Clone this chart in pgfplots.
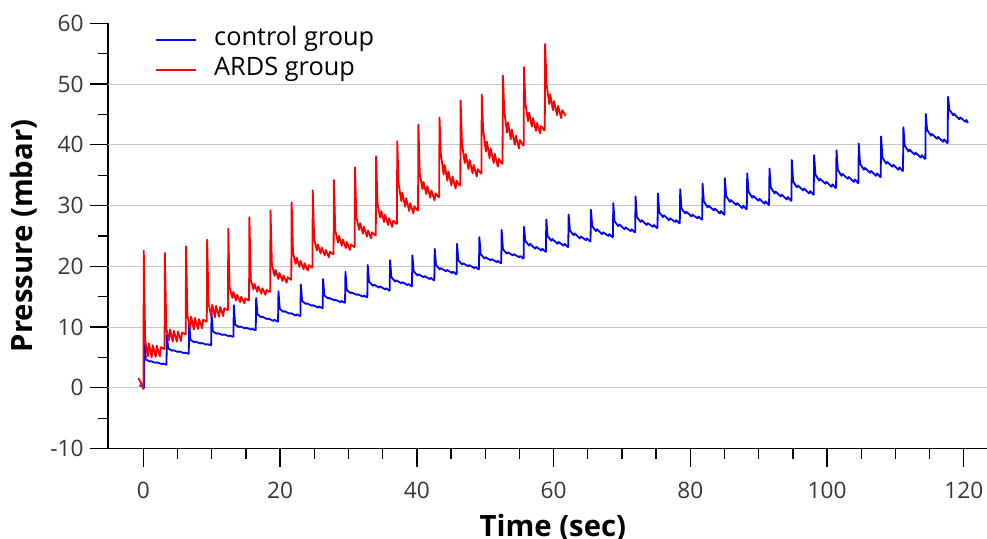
\documentclass[border=0pt]{standalone}
\usepackage{pgfplots}
\pgfplotsset{compat=1.18}
\usepackage{fontspec}
\setmainfont{Open Sans}
\definecolor{gridgray}{RGB}{200,200,200}
\definecolor{ticktext}{RGB}{55,55,55}
\begin{document}
\begin{tikzpicture}
\useasboundingbox (-81.2pt,-67.7pt) rectangle (659.25pt,336.5pt);
\begin{axis}[
  at={(0,0)}, anchor=south west,
  scale only axis, width=659.25pt, height=319pt,
  xmin=-5.15, xmax=123.4, ymin=-10, ymax=60,
  axis lines=left,
  axis line style={-, line width=1.2pt, black},
  xtick={0,20,...,120}, ytick={-10,0,...,60},
  minor x tick num=3, minor y tick num=1,
  tick align=outside,
  major tick length=13.5pt, minor tick length=7.5pt,
  tick style={line width=1pt, black},
  extra y ticks={0,10,20,30,40,50},
  extra y tick labels={},
  extra y tick style={grid=major, major tick length=0pt},
  grid style={line width=0.8pt, gridgray},
  /pgf/number format/assume math mode=true,
  ticklabel style={font=\fontsize{17}{20}\selectfont, text=ticktext},
  xticklabel style={yshift=-8pt},
  yticklabel style={xshift=-1.5pt},
  xlabel={\textbf{Time (sec)}},
  ylabel={\textbf{Pressure (mbar)}},
  label style={font=\fontsize{22}{26}\selectfont},
  xlabel style={at={(axis description cs:0.506,-0.207)}, anchor=base},
  ylabel style={at={(axis description cs:-0.0857,0.5)}, anchor=base, rotate=0},
  legend style={at={(axis description cs:0.048,1.0026)}, anchor=north west, draw=none, fill=none,
    font=\fontsize{19}{22}\selectfont, legend cell align=left,
    nodes={text height=13.5pt, text depth=5pt}},
  legend image code/.code={\draw[#1, line width=1.3pt] (0pt,0pt) -- (30pt,0pt); \path[draw=none] (42pt,0pt) circle (0pt);},
  every axis plot/.append style={line width=1.35pt, line join=round},
]
\addplot[blue, mark=none] coordinates {
(-0.6,0.4)(-0.2,0.3)(0.0,0.1)
(0.10,0.0)(0.16,8.0)(0.35,4.7)(0.90,4.3)(1.05,4.4)(1.80,4.1)(1.95,4.2)(2.70,3.9)(2.85,4.0)(3.30,3.8)
(3.37,3.8)(3.43,8.7)(3.62,6.5)(4.17,6.1)(4.32,6.2)(5.07,5.9)(5.22,6.0)(5.97,5.7)(6.12,5.8)(6.57,5.6)
(6.63,5.6)(6.69,10.6)(6.88,7.9)(7.43,7.5)(7.58,7.6)(8.33,7.3)(8.48,7.4)(9.23,7.1)(9.38,7.2)(9.83,7.0)
(9.90,7.0)(9.96,12.3)(10.15,9.3)(10.70,8.9)(10.85,9.0)(11.60,8.7)(11.75,8.8)(12.50,8.5)(12.65,8.6)(13.10,8.4)
(13.16,8.4)(13.22,13.6)(13.41,10.4)(13.96,10.0)(14.11,10.1)(14.86,9.8)(15.01,9.9)(15.76,9.6)(15.91,9.7)(16.36,9.5)
(16.43,9.5)(16.49,14.8)(16.68,12.1)(17.23,11.6)(17.38,11.7)(18.13,11.3)(18.28,11.4)(19.03,11.0)(19.18,11.2)(19.63,10.9)
(19.69,10.9)(19.75,15.9)(19.94,13.0)(20.49,12.5)(20.64,12.6)(21.39,12.2)(21.54,12.3)(22.29,11.9)(22.44,12.1)(22.89,11.8)
(22.96,11.8)(23.02,17.0)(23.21,14.3)(23.76,13.8)(23.91,13.9)(24.66,13.5)(24.81,13.6)(25.56,13.2)(25.71,13.4)(26.16,13.1)
(26.22,13.1)(26.28,17.9)(26.47,15.2)(27.02,14.7)(27.17,14.8)(27.92,14.4)(28.07,14.5)(28.82,14.1)(28.97,14.3)(29.42,14.0)
(29.49,14.0)(29.55,19.1)(29.74,16.1)(30.29,15.6)(30.44,15.7)(31.19,15.3)(31.34,15.4)(32.09,15.0)(32.24,15.2)(32.69,14.9)
(32.75,14.9)(32.81,20.2)(33.00,17.5)(33.55,16.8)(33.70,17.0)(34.45,16.5)(34.60,16.7)(35.35,16.2)(35.50,16.4)(35.95,16.0)
(36.02,16.0)(36.08,21.0)(36.27,18.2)(36.82,17.5)(36.97,17.7)(37.72,17.2)(37.87,17.4)(38.62,16.9)(38.77,17.1)(39.22,16.7)
(39.28,16.7)(39.34,21.8)(39.53,19.2)(40.08,18.5)(40.23,18.7)(40.98,18.2)(41.13,18.4)(41.88,17.9)(42.03,18.1)(42.48,17.7)
(42.55,17.7)(42.61,22.9)(42.80,20.2)(43.35,19.5)(43.50,19.7)(44.25,19.2)(44.40,19.4)(45.15,18.9)(45.30,19.1)(45.75,18.7)
(45.81,18.7)(45.87,23.7)(46.06,21.0)(46.61,20.3)(46.76,20.5)(47.51,20.0)(47.66,20.2)(48.41,19.7)(48.56,19.9)(49.01,19.5)
(49.08,19.5)(49.14,24.8)(49.33,22.0)(49.88,21.3)(50.03,21.5)(50.78,21.0)(50.93,21.2)(51.68,20.7)(51.83,20.9)(52.28,20.5)
(52.34,20.5)(52.40,26.0)(52.59,22.8)(53.14,22.1)(53.29,22.3)(54.04,21.8)(54.19,22.0)(54.94,21.5)(55.09,21.7)(55.54,21.3)
(55.61,21.3)(55.67,26.5)(55.86,24.2)(56.41,23.4)(56.56,23.7)(57.31,22.9)(57.46,23.2)(58.21,22.6)(58.36,22.9)(58.81,22.4)
(58.87,22.4)(58.93,27.7)(59.12,25.0)(59.67,24.2)(59.82,24.5)(60.57,23.7)(60.72,24.0)(61.47,23.4)(61.62,23.7)(62.07,23.2)
(62.14,23.2)(62.20,28.5)(62.39,25.9)(62.94,25.1)(63.09,25.4)(63.84,24.6)(63.99,24.9)(64.74,24.3)(64.89,24.6)(65.34,24.1)
(65.40,24.1)(65.46,29.3)(65.65,26.6)(66.20,25.8)(66.35,26.1)(67.10,25.3)(67.25,25.6)(68.00,25.0)(68.15,25.3)(68.60,24.8)
(68.67,24.8)(68.73,30.4)(68.92,27.4)(69.47,26.6)(69.62,26.9)(70.37,26.1)(70.52,26.4)(71.27,25.8)(71.42,26.1)(71.87,25.6)
(71.93,25.6)(71.99,31.5)(72.18,28.1)(72.73,27.3)(72.88,27.6)(73.63,26.8)(73.78,27.1)(74.53,26.5)(74.68,26.8)(75.13,26.3)
(75.20,26.3)(75.26,32.0)(75.45,28.9)(76.00,28.1)(76.15,28.4)(76.90,27.6)(77.05,27.9)(77.80,27.3)(77.95,27.6)(78.40,27.1)
(78.46,27.1)(78.52,32.7)(78.71,29.5)(79.26,28.7)(79.41,29.0)(80.16,28.2)(80.31,28.5)(81.06,27.9)(81.21,28.2)(81.66,27.7)
(81.73,27.7)(81.79,33.6)(81.98,30.7)(82.53,29.7)(82.68,30.0)(83.43,29.2)(83.58,29.5)(84.33,28.7)(84.48,29.1)(84.93,28.5)
(84.99,28.5)(85.05,34.5)(85.24,31.6)(85.79,30.6)(85.94,30.9)(86.69,30.1)(86.84,30.4)(87.59,29.6)(87.74,30.0)(88.19,29.4)
(88.26,29.4)(88.32,35.3)(88.51,32.3)(89.06,31.3)(89.21,31.6)(89.96,30.8)(90.11,31.1)(90.86,30.3)(91.01,30.7)(91.46,30.1)
(91.52,30.1)(91.58,36.1)(91.77,33.0)(92.32,32.0)(92.47,32.3)(93.22,31.5)(93.37,31.8)(94.12,31.0)(94.27,31.4)(94.72,30.8)
(94.79,30.8)(94.85,37.5)(95.04,34.0)(95.59,33.0)(95.74,33.3)(96.49,32.5)(96.64,32.8)(97.39,32.0)(97.54,32.4)(97.99,31.8)
(98.05,31.8)(98.11,38.3)(98.30,35.1)(98.85,34.1)(99.00,34.4)(99.75,33.6)(99.90,33.9)(100.65,33.1)(100.80,33.5)(101.25,32.9)
(101.32,32.9)(101.38,39.1)(101.57,35.9)(102.12,34.9)(102.27,35.2)(103.02,34.4)(103.17,34.7)(103.92,33.9)(104.07,34.3)(104.52,33.7)
(104.58,33.7)(104.64,40.2)(104.83,36.9)(105.38,35.9)(105.53,36.2)(106.28,35.4)(106.43,35.7)(107.18,34.9)(107.33,35.3)(107.78,34.7)
(107.85,34.7)(107.91,41.4)(108.10,37.9)(108.65,36.9)(108.80,37.2)(109.55,36.4)(109.70,36.7)(110.45,35.9)(110.60,36.3)(111.05,35.7)
(111.11,35.7)(111.17,42.9)(111.36,39.9)(111.91,38.9)(112.06,39.2)(112.81,38.4)(112.96,38.7)(113.71,37.9)(113.86,38.3)(114.31,37.7)
(114.38,37.7)(114.44,45.1)(114.63,42.5)(115.18,41.5)(115.33,41.8)(116.08,41.0)(116.23,41.3)(116.98,40.5)(117.13,40.9)(117.58,40.3)
(117.64,40.3)(117.70,47.9)(117.89,45.8)(118.44,44.9)(118.59,45.1)(119.34,44.2)(119.49,44.5)(120.24,43.8)(120.39,44.1)(120.60,43.6)
};
\addlegendentry{control group}
\addplot[red, mark=none] coordinates {
(-0.75,1.6)(-0.4,0.9)(-0.1,0.1)(0.0,-0.2)
(0.05,22.6)(0.25,7.8)(0.65,5.2)(0.8,7.3)(1.2,5.0)(1.35,7.0)(1.8,5.1)(1.95,6.9)(2.4,5.2)(2.55,6.7)(3.0,6.4)
(3.09,6.4)(3.14,22.2)(3.34,9.8)(3.74,7.8)(3.89,9.6)(4.29,7.6)(4.44,9.4)(4.89,7.6)(5.04,9.3)(5.49,7.7)(5.64,9.1)(6.09,8.8)
(6.18,8.8)(6.23,23.3)(6.43,11.9)(6.83,9.8)(6.98,11.7)(7.38,9.6)(7.53,11.5)(7.98,9.7)(8.13,11.3)(8.58,9.8)(8.73,11.2)(9.18,10.9)
(9.27,10.9)(9.32,24.4)(9.52,13.9)(9.92,11.8)(10.07,13.7)(10.47,11.6)(10.62,13.5)(11.07,11.7)(11.22,13.3)(11.67,11.8)(11.82,13.1)(12.27,12.8)
(12.36,12.8)(12.41,26.2)(12.61,16.5)(13.01,14.8)(13.16,15.8)(13.56,14.4)(13.71,15.3)(14.16,14.1)(14.31,15.0)(14.76,13.9)(14.91,14.7)(15.36,14.4)
(15.45,14.4)(15.50,28.1)(15.70,17.8)(16.10,16.2)(16.25,17.1)(16.65,15.8)(16.80,16.7)(17.25,15.5)(17.40,16.4)(17.85,15.3)(18.00,16.1)(18.45,15.8)
(18.54,15.8)(18.59,29.2)(18.79,20.3)(19.19,18.4)(19.34,19.4)(19.74,17.9)(19.89,18.9)(20.34,17.6)(20.49,18.5)(20.94,17.3)(21.09,18.2)(21.54,17.8)
(21.63,17.8)(21.68,30.5)(21.88,22.2)(22.28,20.4)(22.43,21.4)(22.83,19.9)(22.98,20.9)(23.43,19.5)(23.58,20.5)(24.03,19.3)(24.18,20.2)(24.63,19.8)
(24.72,19.8)(24.77,32.5)(24.97,24.5)(25.37,22.6)(25.52,23.6)(25.92,22.1)(26.07,23.1)(26.52,21.8)(26.67,22.7)(27.12,21.5)(27.27,22.4)(27.72,22.0)
(27.81,22.0)(27.86,34.2)(28.06,25.9)(28.46,23.9)(28.61,25.0)(29.01,23.4)(29.16,24.4)(29.61,23.0)(29.76,24.0)(30.21,22.7)(30.36,23.6)(30.81,23.2)
(30.90,23.2)(30.95,36.3)(31.15,28.1)(31.55,26.0)(31.70,27.1)(32.10,25.4)(32.25,26.5)(32.70,24.9)(32.85,25.9)(33.30,24.6)(33.45,25.6)(33.90,25.1)
(33.99,25.1)(34.04,38.1)(34.24,30.3)(34.64,28.0)(34.79,29.1)(35.19,27.3)(35.34,28.5)(35.79,26.8)(35.94,27.9)(36.39,26.5)(36.54,27.5)(36.99,27.0)
(37.08,27.0)(37.13,40.6)(37.33,33.6)(37.73,30.7)(37.88,32.1)(38.28,29.8)(38.43,31.2)(38.88,29.1)(39.03,30.4)(39.48,28.7)(39.63,29.9)(40.08,29.2)
(40.17,29.2)(40.22,43.3)(40.42,35.3)(40.82,32.7)(40.97,33.9)(41.37,31.9)(41.52,33.2)(41.97,31.3)(42.12,32.5)(42.57,30.9)(42.72,32.0)(43.17,31.4)
(43.26,31.4)(43.31,44.5)(43.51,38.5)(43.91,35.1)(44.06,36.7)(44.46,34.1)(44.61,35.6)(45.06,33.3)(45.21,34.8)(45.66,32.8)(45.81,34.1)(46.26,33.3)
(46.35,33.3)(46.40,47.3)(46.60,40.2)(47.00,37.0)(47.15,38.5)(47.55,36.0)(47.70,37.5)(48.15,35.3)(48.30,36.7)(48.75,34.8)(48.90,36.0)(49.35,35.3)
(49.44,35.3)(49.49,48.3)(49.69,42.5)(50.09,38.9)(50.24,40.5)(50.64,37.8)(50.79,39.4)(51.24,37.0)(51.39,38.5)(51.84,36.4)(51.99,37.7)(52.44,36.9)
(52.53,36.9)(52.58,51.4)(52.78,45.7)(53.18,42.0)(53.33,43.7)(53.73,40.9)(53.88,42.5)(54.33,40.0)(54.48,41.5)(54.93,39.4)(55.08,40.8)(55.53,39.9)
(55.62,39.9)(55.67,52.8)(55.87,46.8)(56.27,43.9)(56.42,45.3)(56.82,43.0)(56.97,44.4)(57.42,42.3)(57.57,43.6)(58.02,41.9)(58.17,43.1)(58.62,42.4)
(58.71,42.4)(58.76,56.6)(58.96,50.1)(59.36,46.7)(59.51,48.3)(59.91,45.7)(60.06,47.2)(60.51,44.9)(60.66,46.4)(61.11,44.4)(61.26,45.7)(61.71,44.9)(61.8,44.8)
};
\addlegendentry{ARDS group}
\end{axis}
\end{tikzpicture}
\end{document}
